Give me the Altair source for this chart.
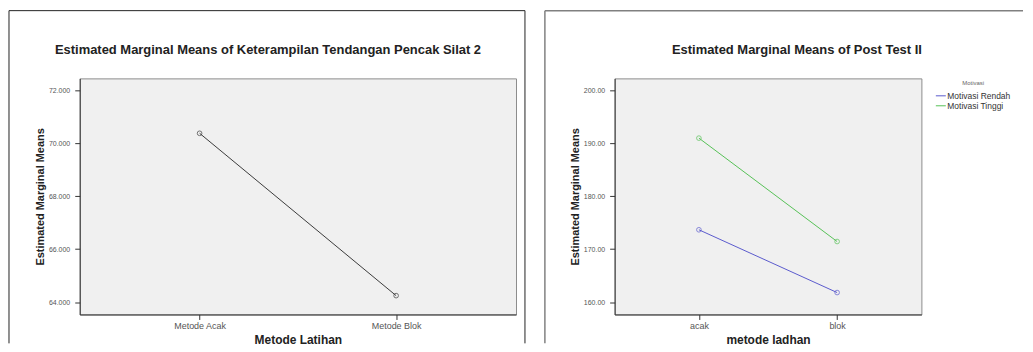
import altair as alt
import pandas as pd

# ---- data ----
left_cats = ["Metode Acak", "Metode Blok"]
left_vals = [70.37, 64.25]
left_ticks = [64, 66, 68, 70, 72]

right_cats = ["acak", "blok"]
groups = ["Motivasi Rendah", "Motivasi Tinggi"]
rendah_vals = [173.66, 161.83]
tinggi_vals = [190.94, 171.45]
right_ticks = [160, 170, 180, 190, 200]

left_title = "Estimated Marginal Means of Keterampilan Tendangan Pencak Silat 2"
right_title = "Estimated Marginal Means of Post Test II"

FONT = "Liberation Sans"
group_colors = ["#5A5ACD", "#56C156"]

left_df = pd.DataFrame({"metode": left_cats, "mean": left_vals})
right_df = pd.DataFrame({
    "metode": right_cats + right_cats,
    "Motivasi": [groups[0]] * 2 + [groups[1]] * 2,
    "mean": rendah_vals + tinggi_vals,
})
one = pd.DataFrame({"k": [0]})


def frame(x0, x1, y0, y1, color, width, right=True):
    base = alt.Chart(one)
    parts = [
        base.mark_rule(color=color, strokeWidth=width).encode(
            x=alt.value(x0), x2=alt.value(x1), y=alt.value(y0)),
        base.mark_rule(color=color, strokeWidth=width).encode(
            x=alt.value(x0), y=alt.value(y0), y2=alt.value(y1)),
    ]
    if right:
        parts.append(base.mark_rule(color=color, strokeWidth=width).encode(
            x=alt.value(x1), y=alt.value(y0), y2=alt.value(y1)))
    return parts


def title_text(text, cx):
    return alt.Chart(one).mark_text(
        font=FONT, fontSize=13, fontWeight="bold", color="#222222",
        align="center", baseline="middle",
    ).encode(x=alt.value(cx), y=alt.value(-28), text=alt.value(text))


def y_axis(ticks, fmt):
    return alt.Axis(values=ticks, format=fmt, grid=False, labelPadding=5,
                    title="Estimated Marginal Means", titlePadding=3)


def x_axis(title):
    return alt.Axis(title=title, labelAngle=0, titlePadding=4, labelPadding=2)


# ---- left panel ----
xl = alt.X("metode:N", sort=left_cats,
           scale=alt.Scale(type="point", padding=0.61),
           axis=x_axis("Metode Latihan"))
yl = alt.Y("mean:Q", scale=alt.Scale(domain=[63.54, 72.44], nice=False, zero=False),
           axis=y_axis(left_ticks, ".3f"))

l_line = alt.Chart(left_df).mark_line(color="#3a3a3a", strokeWidth=1).encode(x=xl, y=yl)
l_pts = alt.Chart(left_df).mark_point(shape="circle", filled=False, size=22,
                                      color="#3a3a3a", strokeWidth=1).encode(x=xl, y=yl)

left = alt.layer(
    l_line, l_pts, title_text(left_title, 189),
    *frame(-71, 447, -68, 266, "#222222", 1),
).properties(width=438, height=237)

# ---- right panel ----
xr = alt.X("metode:N", sort=right_cats,
           scale=alt.Scale(type="point", padding=0.61),
           axis=x_axis("metode ladhan"))
yr = alt.Y("mean:Q", scale=alt.Scale(domain=[157.7, 202.2], nice=False, zero=False),
           axis=y_axis(right_ticks, ".2f"))

r_line = alt.Chart(right_df).mark_line(strokeWidth=1).encode(
    x=xr, y=yr,
    color=alt.Color("Motivasi:N", scale=alt.Scale(domain=groups, range=group_colors),
                    legend=alt.Legend(orient="none", legendX=859, legendY=2,
                                      title="Motivasi", titleFontSize=6,
                                      titleFontWeight="normal", titleColor="#666666",
                                      titleAnchor="middle", titlePadding=4,
                                      labelFontSize=8.5, labelColor="#333333",
                                      symbolSize=100, symbolStrokeWidth=1,
                                      labelOffset=1, rowPadding=-3)),
)
r_pts = alt.Chart(right_df).mark_point(shape="circle", filled=False, size=22,
                                       strokeWidth=1).encode(
    x=xr, y=yr,
    stroke=alt.Stroke("Motivasi:N", scale=alt.Scale(domain=groups, range=group_colors),
                      legend=None),
)

right = alt.layer(
    r_line, r_pts, title_text(right_title, 183),
    *frame(-70, 410, -68, 266, "#808080", 1.5, right=False),
).properties(width=308, height=237)

chart = alt.hconcat(left, right, spacing=17).resolve_scale(
    x="independent", y="independent"
).properties(
    padding=0, background="white"
).configure_view(
    fill="#F0F0F0", stroke="#8C8C8C", strokeWidth=1
).configure_axis(
    labelFont=FONT, labelFontSize=7, labelColor="#555555",
    titleFont=FONT, titleFontSize=11, titleFontWeight="bold", titleColor="#222222",
    domainColor="#333333", domainWidth=1, tickColor="#333333", tickSize=5,
).configure_axisX(
    labelFontSize=9, titleFontSize=12,
).configure_legend(
    labelFont=FONT, titleFont=FONT,
)

chart.save("out.html", embed_options={"renderer": "svg", "actions": False})
